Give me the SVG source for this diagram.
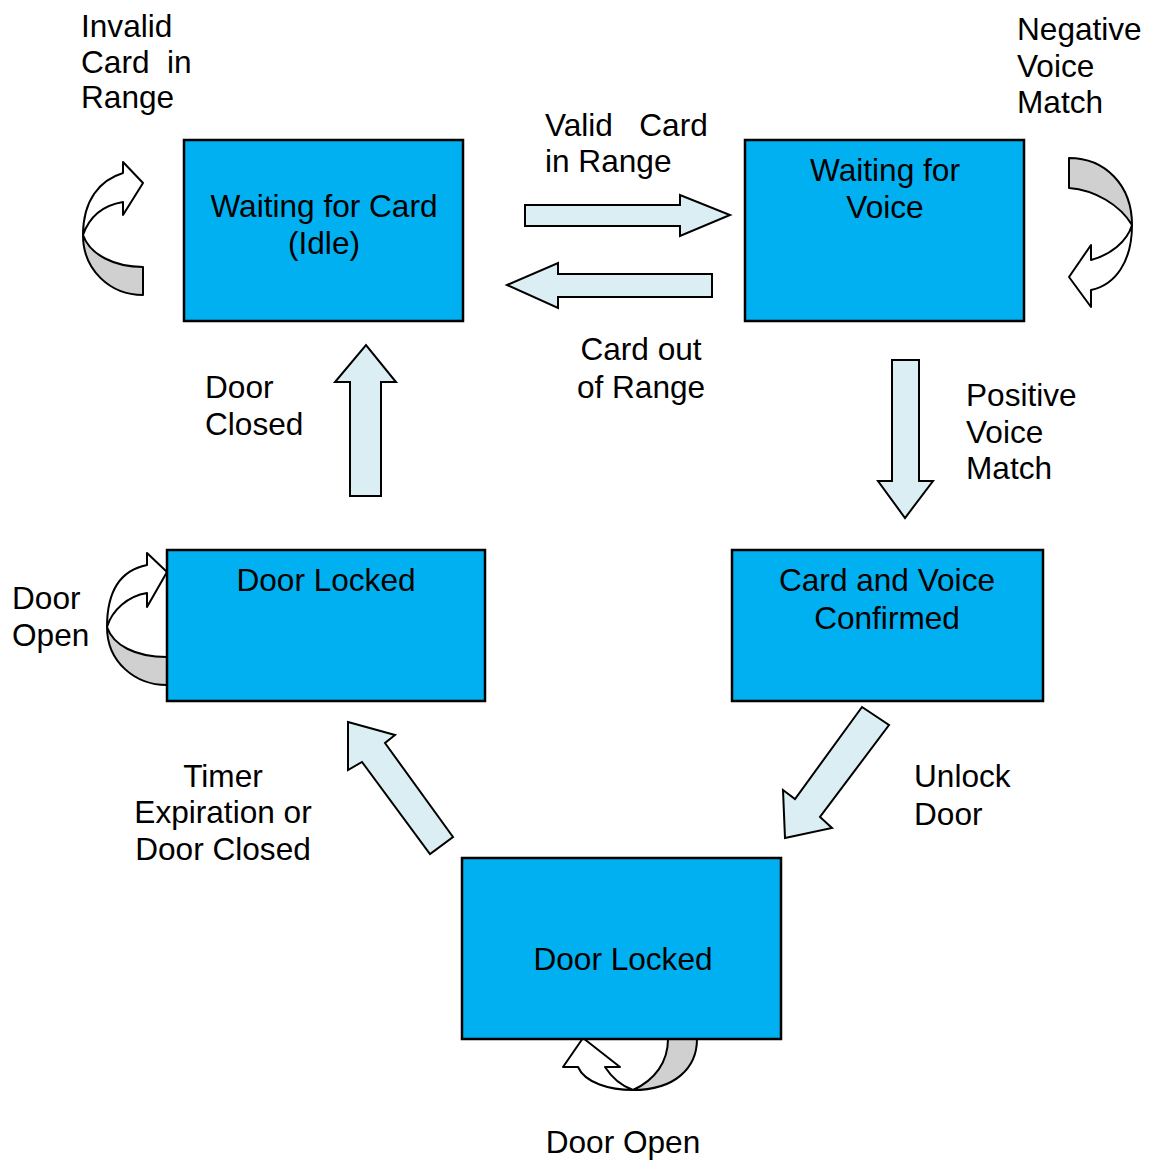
<svg xmlns="http://www.w3.org/2000/svg" width="1155" height="1160" viewBox="0 0 1155 1160">
<style>
.box{fill:#00B0F0;stroke:#000;stroke-width:2.5}
.arr{fill:#DAEEF3;stroke:#000;stroke-width:2;stroke-linejoin:miter}
.cw{fill:#fff;stroke:#000;stroke-width:2;stroke-linejoin:round}
.cg{fill:#D0D0D0;stroke:#000;stroke-width:2;stroke-linejoin:round}
text{font-family:"Liberation Sans",Arial,sans-serif;font-size:31.6px;fill:#000}
.c{text-anchor:middle}
</style>
<rect width="1155" height="1160" fill="#fff"/>
<g id="connectors">
  <polygon class="arr" points="525,205 680,205 680,195 730,215 680,236 680,226 525,226"/>
  <polygon class="arr" points="712,274 558,274 558,263 507,285 558,308 558,297 712,297"/>
  <polygon class="arr" points="350,496 350,382 335,382 366,345 396,382 381,382 381,496"/>
  <polygon class="arr" points="892,360 919,360 919,481 933,481 905,518 878,481 892,481"/>
  <polygon class="arr" points="862,707 889,725 820,817 832,828 785,838 783,790 795,799"/>
  <polygon class="arr" points="348,722 395,735 385,743 453,837 430,854 362,762 348,770"/>
  <g id="self-idle">
    <path class="cg" d="M83,235 C83,270 110,295 143,295 L143,267 C115,267 90,255 83,235 Z"/>
    <path class="cw" d="M123,173 C100,180 83,200 83,235 C90,215 105,205 123,202 L123,215 L143,183 L123,162 Z"/>
  </g>
  <g id="self-voice">
    <path class="cg" d="M1069,158 C1105,158 1132,185 1132,225 C1120,205 1095,190 1069,188 Z"/>
    <path class="cw" d="M1132,225 C1132,262 1115,285 1091,290 L1091,307 L1069,277 L1091,245 L1091,260 C1110,255 1127,242 1132,225 Z"/>
  </g>
  <g id="self-locked">
    <path class="cg" d="M107,627 C107,662 135,685 167,685 L167,657 C135,657 113,645 107,627 Z"/>
    <path class="cw" d="M147,565 C122,570 107,588 107,627 C112,610 128,596 147,593 L147,607 L167,572 L147,553 Z"/>
  </g>
  <g id="self-bottom">
    <path class="cg" d="M697,1039 C697,1068 675,1090 633,1090 C655,1080 668,1062 668,1039 Z"/>
    <path class="cw" d="M633,1090 C610,1090 585,1083 578,1067 L563,1067 L583,1038 L620,1067 L605,1067 C612,1078 622,1086 633,1090 Z"/>
  </g>
</g>
<g id="node-idle">
  <rect class="box" x="184" y="140" width="279" height="181"/>
  <text class="c" x="324" y="217">Waiting for Card</text>
  <text class="c" x="324" y="254">(Idle)</text>
</g>
<g id="node-voice">
  <rect class="box" x="745" y="140" width="279" height="181"/>
  <text class="c" x="885" y="181">Waiting for</text>
  <text class="c" x="885" y="218">Voice</text>
</g>
<g id="node-locked-left">
  <rect class="box" x="167" y="550" width="318" height="151"/>
  <text class="c" x="326" y="591">Door Locked</text>
</g>
<g id="node-confirmed">
  <rect class="box" x="732" y="550" width="311" height="151"/>
  <text class="c" x="887" y="591">Card and Voice</text>
  <text class="c" x="887" y="629">Confirmed</text>
</g>
<g id="node-locked-bottom">
  <rect class="box" x="462" y="858" width="319" height="181"/>
  <text class="c" x="623" y="970">Door Locked</text>
</g>
<g id="labels">
  <text x="81" y="37">Invalid</text>
  <text x="81" y="73" xml:space="preserve">Card  in</text>
  <text x="81" y="108">Range</text>
  <text x="1017" y="40">Negative</text>
  <text x="1017" y="77">Voice</text>
  <text x="1017" y="113">Match</text>
  <text x="545" y="136" xml:space="preserve">Valid   Card</text>
  <text x="545" y="172">in Range</text>
  <text class="c" x="641" y="360">Card out</text>
  <text class="c" x="641" y="398">of Range</text>
  <text x="205" y="398">Door</text>
  <text x="205" y="435">Closed</text>
  <text x="966" y="406">Positive</text>
  <text x="966" y="443">Voice</text>
  <text x="966" y="479">Match</text>
  <text x="12" y="609">Door</text>
  <text x="12" y="646">Open</text>
  <text class="c" x="223" y="787">Timer</text>
  <text class="c" x="223" y="823">Expiration or</text>
  <text class="c" x="223" y="860">Door Closed</text>
  <text x="914" y="787">Unlock</text>
  <text x="914" y="825">Door</text>
  <text class="c" x="623" y="1153">Door Open</text>
</g>
</svg>
